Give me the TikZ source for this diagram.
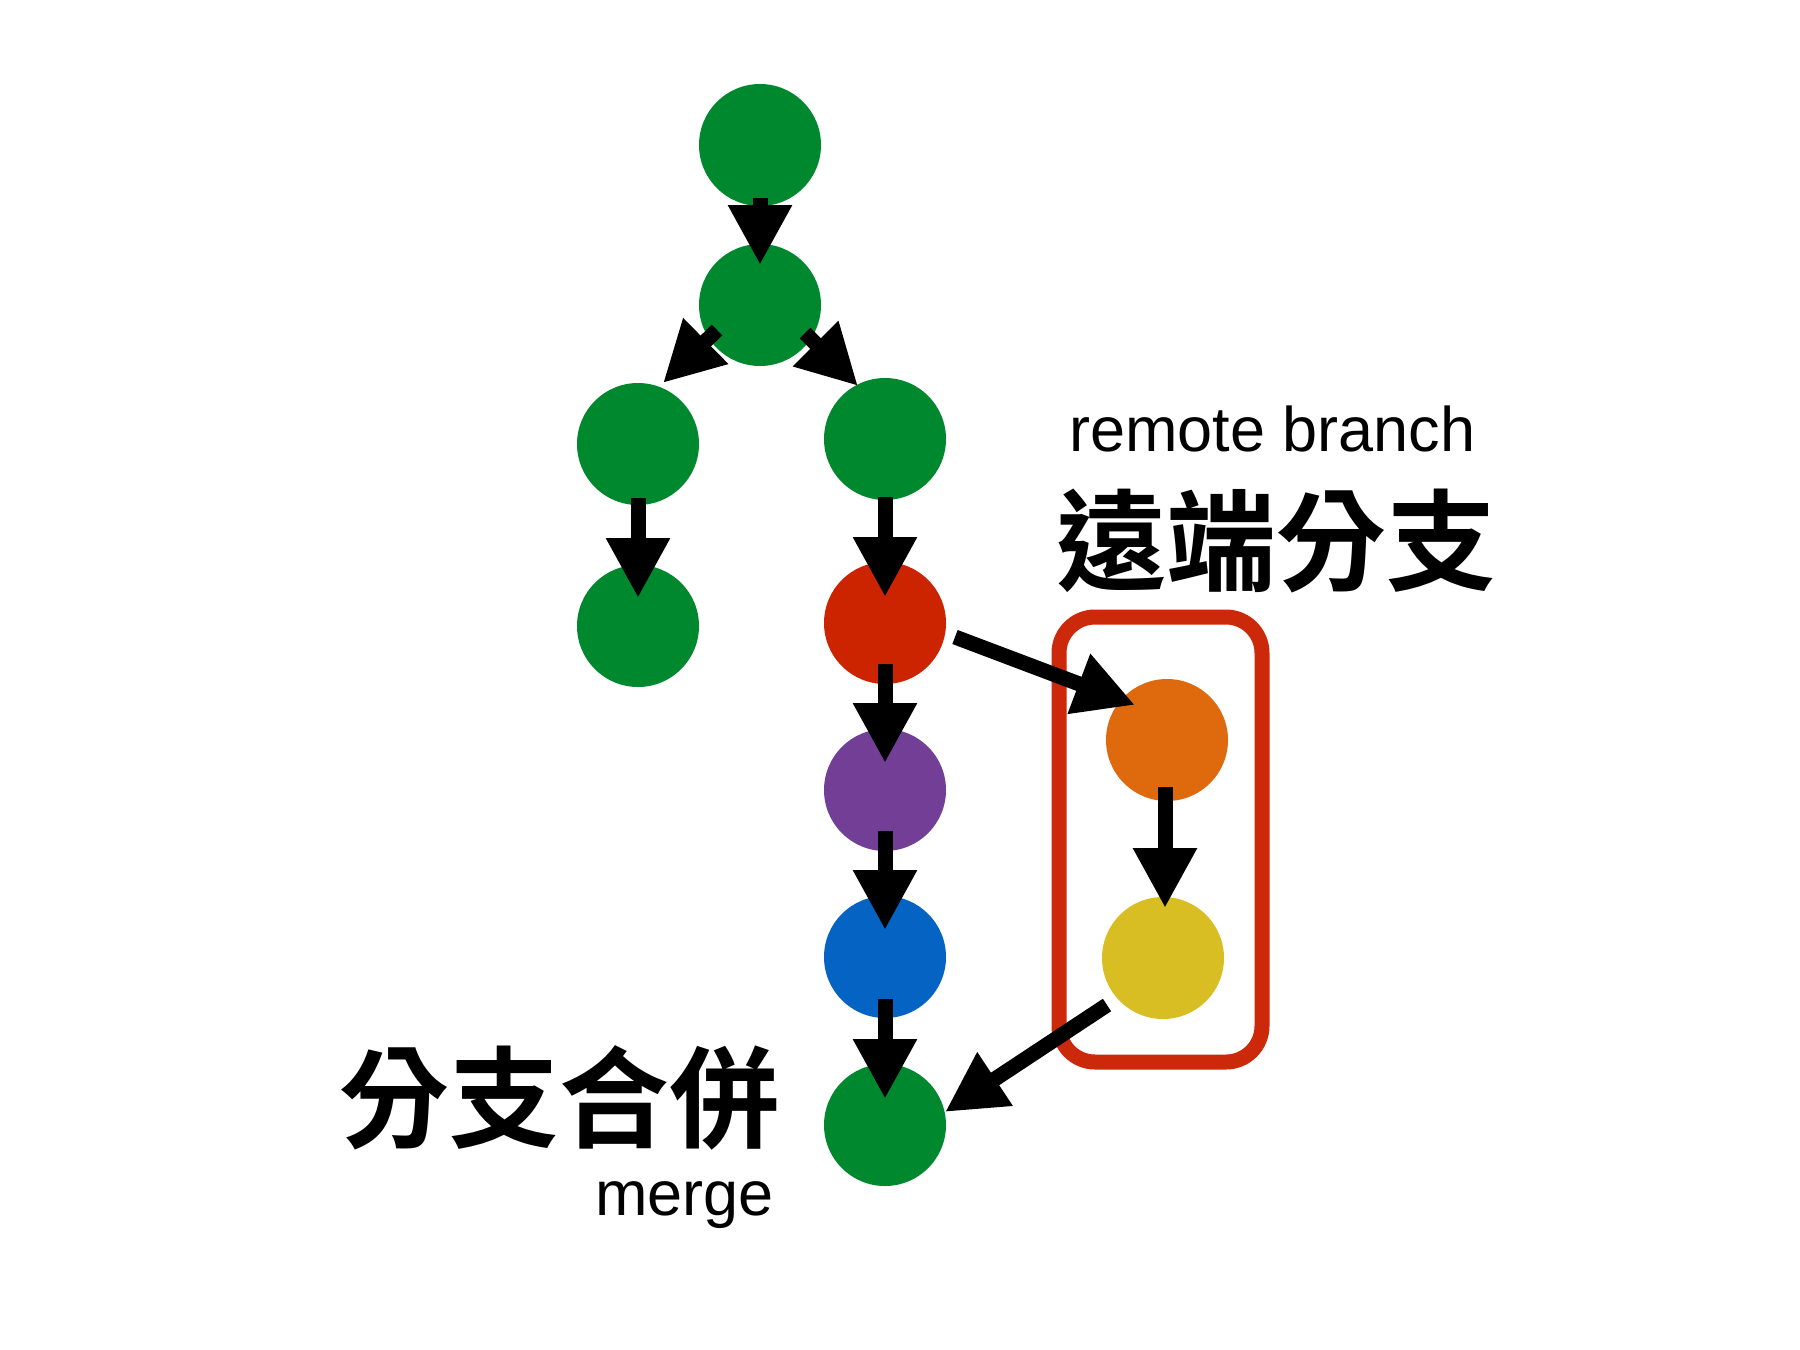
\documentclass[tikz,border=0pt]{standalone}
\usepackage{fontspec}
\setmainfont{Liberation Sans}
\newfontfamily\cjk{Noto Sans CJK TC Bold}
\usetikzlibrary{arrows.meta}
\definecolor{cgreen}{RGB}{0,136,46}
\definecolor{cred}{RGB}{204,36,0}
\definecolor{cpurple}{RGB}{115,63,150}
\definecolor{cblue}{RGB}{4,99,195}
\definecolor{corange}{RGB}{223,106,14}
\definecolor{cyellow}{RGB}{217,190,35}
\definecolor{boxred}{RGB}{204,40,10}
\begin{document}
\begin{tikzpicture}[x=0.5pt,y=-0.5pt,
  dot/.style={circle,inner sep=0pt,minimum size=61pt,fill=#1},
  arr/.style={line width=7.5pt,-{Triangle[length=30pt,width=30pt]}},
  small/.style={inner sep=0pt,font=\fontsize{31.5}{36}\selectfont},
  big/.style={inner sep=0pt,font=\cjk\fontsize{55}{60}\selectfont}]
\useasboundingbox (0,0) rectangle (1800,1350);
% remote branch box
\node[draw=boxred,line width=7.5pt,rounded corners=18pt,minimum width=101.5pt,minimum height=222.5pt] (box) at (1160.5,839.5) {};
% commits
\node[dot=cgreen] (c1) at (760,145) {};
\node[dot=cgreen] (c2) at (760,305) {};
\node[dot=cgreen] (cl) at (638,444) {};
\node[dot=cgreen] (cr) at (885,439) {};
\node[dot=cgreen] (cl2) at (638,626) {};
\node[dot=cred] (red) at (885,623) {};
\node[dot=cpurple] (purple) at (885,790) {};
\node[dot=cblue] (blue) at (885,957) {};
\node[dot=cgreen] (merge) at (885,1125) {};
\node[dot=corange] (orange) at (1167,740) {};
\node[dot=cyellow] (yellow) at (1163,958) {};
% arrows
\draw[arr] ([shift={(0,53)}]c1.center) -- ([shift={(0,-40)}]c2.center);
\draw[arr] ([shift={(-43,25)}]c2.center) -- ([shift={(25,-61)}]cl.center);
\draw[arr] ([shift={(45,28)}]c2.center) -- ([shift={(-27,-53)}]cr.center);
\draw[arr] ([shift={(0,54)}]cl.center) -- ([shift={(0,-28)}]cl2.center);
\draw[arr] ([shift={(0,58)}]cr.center) -- ([shift={(0,-26)}]red.center);
\draw[arr] ([shift={(0,41)}]red.center) -- ([shift={(0,-27)}]purple.center);
\draw[arr] ([shift={(0,41)}]purple.center) -- ([shift={(0,-27)}]blue.center);
\draw[arr] ([shift={(0,42)}]blue.center) -- ([shift={(0,-26)}]merge.center);
\draw[arr] ([shift={(-2,47)}]orange.center) -- ([shift={(2,-50)}]yellow.center);
\draw[arr] ([shift={(70,14)}]red.center) -- ([shift={(-32,-35)}]orange.center);
\draw[arr] ([shift={(-56,47)}]yellow.center) -- ([shift={(60,-13)}]merge.center);
% labels
\node[small,anchor=base west] (rb) at (1069,451) {remote branch};
\node[big,anchor=base] (rbzh) at (1276,582) {遠端分支};
\node[big,anchor=base] (mgzh) at (559,1139) {分支合併};
\node[small,anchor=base east] (mg) at (774,1215) {merge};
\end{tikzpicture}
\end{document}
